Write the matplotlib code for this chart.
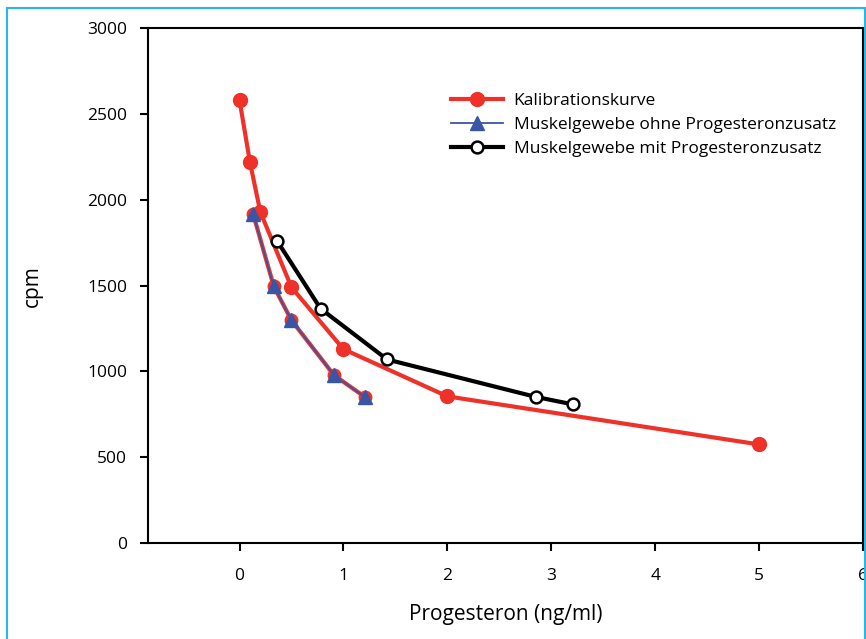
import numpy as np
import matplotlib
matplotlib.use("Agg")
import matplotlib.pyplot as plt
from matplotlib.patches import Rectangle

plt.rcParams['font.family'] = ['Open Sans', 'DejaVu Sans']

# Kalibrationskurve
kal_x = [0.0, 0.1, 0.2, 0.5, 1.0, 2.0, 5.0]
kal_y = [2580, 2220, 1930, 1490, 1130, 855, 575]

# Muskelgewebe ohne Progesteronzusatz
ohne_x = [0.13, 0.33, 0.5, 0.91, 1.21]
ohne_y = [1920, 1495, 1298, 978, 850]

# Muskelgewebe mit Progesteronzusatz
mit_x = [0.36, 0.78, 1.42, 2.85, 3.21]
mit_y = [1762, 1366, 1070, 852, 808]

red = '#ee3129'
blue = '#3a55a4'

fig = plt.figure(figsize=(8.66, 6.39), dpi=100)
ax = fig.add_axes([0.171, 0.150, 0.8255, 0.806])

# rote Unterlage unter der blauen Kurve (wie im Original)
ax.plot(ohne_x, ohne_y, color=red, linewidth=3.0, marker='o', markersize=9,
        zorder=2)
ax.plot(kal_x, kal_y, color=red, linewidth=3.0, marker='o', markersize=10,
        label='Kalibrationskurve', zorder=3)
ax.plot(ohne_x, ohne_y, color=blue, linewidth=1.3, marker='^', markersize=10,
        label='Muskelgewebe ohne Progesteronzusatz', zorder=4)
ax.plot(mit_x, mit_y, color='black', linewidth=3.0, marker='o', markersize=8.5,
        markerfacecolor='white', markeredgecolor='black', markeredgewidth=1.8,
        label='Muskelgewebe mit Progesteronzusatz', zorder=5)

ax.set_xlim(-0.88, 6)
ax.set_ylim(0, 3000)
ax.set_xticks(range(0, 7))
ax.set_yticks(range(0, 3001, 500))
ax.tick_params(direction='out', length=6, width=1.5, labelsize=12.5)
ax.tick_params(axis='y', pad=9)
ax.tick_params(axis='x', pad=12)
for s in ax.spines.values():
    s.set_linewidth(1.5)

ax.set_xlabel('Progesteron (ng/ml)', fontsize=15, labelpad=14)
ax.set_ylabel('cpm', fontsize=15, labelpad=32)

ax.legend(loc='upper left', bbox_to_anchor=(0.402, 0.905), frameon=False,
          fontsize=12.5, handlelength=3.0, handletextpad=0.6,
          labelspacing=0.45)

# hellblauer Rahmen
fig.patches.append(Rectangle((7 / 866, -0.05), 858 / 866, 1.05 - 8 / 639,
                             transform=fig.transFigure, fill=False,
                             edgecolor='#29b6e8', linewidth=1.5))

fig.savefig('out.png', dpi=100)
